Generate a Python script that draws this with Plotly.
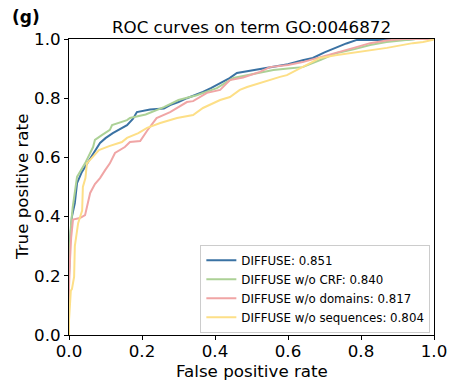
import plotly.graph_objects as go

names = ["DIFFUSE: 0.851", "DIFFUSE w/o CRF: 0.840",
         "DIFFUSE w/o domains: 0.817", "DIFFUSE w/o sequences: 0.804"]
colors = ["#3a72a3", "#acd196", "#f0a5a5", "#fddf87"]

fpr_full = [0, 0, 0.003, 0.008, 0.016, 0.022, 0.035, 0.049, 0.065, 0.085, 0.10, 0.12,
            0.14, 0.159, 0.175, 0.186, 0.222, 0.26, 0.277, 0.30, 0.323, 0.345, 0.367,
            0.39, 0.414, 0.44, 0.46, 0.504, 0.55, 0.60, 0.64, 0.668, 0.70, 0.734, 0.76,
            0.789, 0.85, 0.9, 0.95, 1.0]
tpr_full = [0, 0.2, 0.32, 0.40, 0.446, 0.513, 0.55, 0.58, 0.61, 0.649, 0.665, 0.682,
            0.695, 0.709, 0.73, 0.753, 0.762, 0.765, 0.777, 0.787, 0.80, 0.81, 0.821,
            0.835, 0.851, 0.868, 0.885, 0.895, 0.905, 0.915, 0.928, 0.936, 0.955, 0.973,
            0.985, 0.997, 0.997, 0.997, 1.0, 1.0]

fpr_nocrf = [0, 0, 0.004, 0.01, 0.022, 0.044, 0.066, 0.071, 0.09, 0.112, 0.118, 0.159,
             0.167, 0.21, 0.26, 0.30, 0.35, 0.405, 0.45, 0.515, 0.56, 0.60, 0.64, 0.69,
             0.734, 0.78, 0.825, 0.87, 0.915, 0.95, 1.0]
tpr_nocrf = [0, 0.22, 0.35, 0.43, 0.534, 0.58, 0.635, 0.659, 0.675, 0.693, 0.709, 0.726,
             0.733, 0.745, 0.77, 0.794, 0.81, 0.834, 0.868, 0.885, 0.895, 0.90, 0.905,
             0.93, 0.953, 0.965, 0.98, 0.99, 0.997, 1.0, 1.0]

fpr_nodom = [0, 0, 0.003, 0.006, 0.011, 0.02, 0.03, 0.044, 0.058, 0.071, 0.085, 0.099,
             0.112, 0.126, 0.153, 0.167, 0.195, 0.214, 0.24, 0.277, 0.296, 0.323, 0.34,
             0.378, 0.414, 0.441, 0.477, 0.523, 0.55, 0.60, 0.64, 0.69, 0.734, 0.78,
             0.825, 0.87, 0.915, 1.0]
tpr_nodom = [0, 0.16, 0.26, 0.33, 0.39, 0.393, 0.395, 0.405, 0.48, 0.51, 0.53, 0.557,
             0.58, 0.615, 0.635, 0.652, 0.655, 0.69, 0.733, 0.753, 0.767, 0.787, 0.79,
             0.818, 0.828, 0.861, 0.87, 0.889, 0.905, 0.912, 0.922, 0.94, 0.956, 0.97,
             0.986, 0.995, 1.0, 1.0]

fpr_noseq = [0, 0, 0.005, 0.008, 0.014, 0.016, 0.025, 0.036, 0.038, 0.045, 0.049, 0.063,
             0.082, 0.11, 0.145, 0.159, 0.19, 0.214, 0.25, 0.296, 0.34, 0.367, 0.414,
             0.441, 0.468, 0.488, 0.53, 0.578, 0.597, 0.64, 0.688, 0.73, 0.778, 0.82,
             0.871, 0.942, 0.97, 0.997, 1.0]
tpr_noseq = [0, 0.05, 0.15, 0.155, 0.196, 0.30, 0.378, 0.42, 0.50, 0.53, 0.58, 0.60,
             0.625, 0.638, 0.652, 0.666, 0.682, 0.70, 0.716, 0.733, 0.743, 0.767, 0.794,
             0.804, 0.828, 0.838, 0.855, 0.872, 0.878, 0.905, 0.936, 0.945, 0.953, 0.96,
             0.97, 0.986, 0.99, 0.997, 1.0]

series = [(fpr_full, tpr_full), (fpr_nocrf, tpr_nocrf),
          (fpr_nodom, tpr_nodom), (fpr_noseq, tpr_noseq)]

FONT = "DejaVu Sans"
L, R, T, B, W, H = 69, 20, 39, 46, 454, 381
PW, PH = W - L - R, H - T - B

fig = go.Figure()
for (fx, ty), name, col in zip(series, names, colors):
    fig.add_trace(go.Scatter(x=fx, y=ty, mode="lines", name=name,
                             line=dict(color=col, width=2)))

axis_common = dict(range=[0, 1], dtick=0.2, tickformat=".1f", showgrid=False,
                   zeroline=False, showline=True, linecolor="black", linewidth=1,
                   mirror=True, ticks="outside", ticklen=4, tickcolor="black",
                   automargin=False,
                   tickfont=dict(family=FONT, size=16.7, color="black"))
fig.update_xaxes(**axis_common, ticklabelstandoff=-3)
fig.update_yaxes(**axis_common)

fig.update_layout(
    width=W, height=H,
    margin=dict(l=L, r=R, t=T, b=B),
    plot_bgcolor="white", paper_bgcolor="white",
    title=dict(text="ROC curves on term GO:0046872", x=0.5, xref="paper",
               xanchor="center", y=1 - 27 / H, yanchor="middle",
               font=dict(family=FONT, size=16.7, color="black")),
    legend=dict(x=0.99, y=0.008, xanchor="right", yanchor="bottom",
                bgcolor="white", bordercolor="#cccccc", borderwidth=1,
                font=dict(family=FONT, size=11.8, color="black"),
                itemwidth=30, tracegroupgap=0),
    showlegend=True,
    annotations=[
        dict(text="<b>(g)</b>", xref="paper", yref="paper",
             x=(10 - L) / PW, y=1 + (T - 17) / PH,
             xanchor="left", yanchor="middle", showarrow=False,
             font=dict(family=FONT, size=17, color="black")),
        dict(text="False positive rate", xref="paper", yref="paper",
             x=0.5, y=(H - B - 371) / PH, xanchor="center", yanchor="middle",
             showarrow=False, font=dict(family=FONT, size=16.7, color="black")),
        dict(text="True positive rate", xref="paper", yref="paper",
             x=(22 - L) / PW, y=0.5, xanchor="center", yanchor="middle",
             textangle=-90, showarrow=False,
             font=dict(family=FONT, size=16.7, color="black")),
    ],
)

fig.write_html("out.html")
